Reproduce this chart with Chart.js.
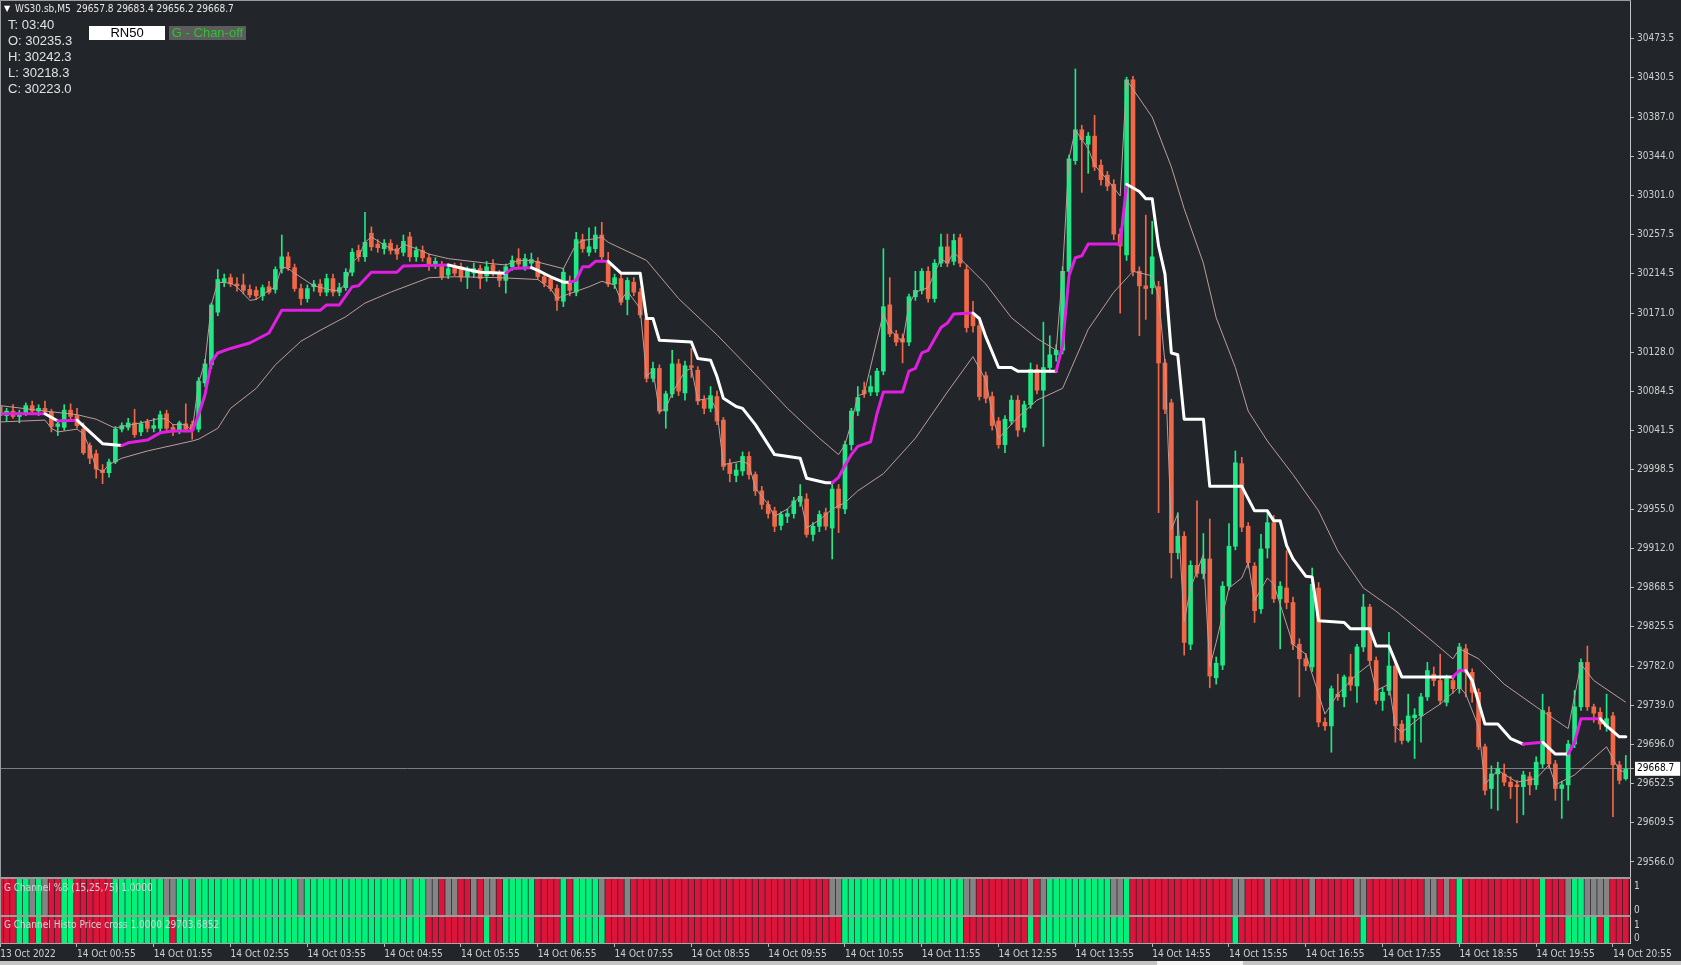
<!DOCTYPE html>
<html>
<head>
<meta charset="utf-8">
<title>WS30.sb,M5</title>
<script src="https://cdn.jsdelivr.net/npm/chart.js"></script>
<style>
  html, body { margin: 0; padding: 0; }
  body { width: 1681px; height: 965px; position: relative; overflow: hidden; background: #222529; }
  canvas { position: absolute; left: 0; }
  .t { position: absolute; white-space: pre; color: #e2e2e2; }
  .ln { position: absolute; background: #9c9c9c; }
</style>
</head>
<body>
<canvas id="main" width="1681" height="878" style="top:0"></canvas>
<canvas id="pctb" width="1681" height="38" style="top:878px"></canvas>
<canvas id="histo" width="1681" height="49" style="top:916px"></canvas>

<div class="ln" style="left:0;top:0;width:1631px;height:1px"></div>
<div class="ln" style="left:0;top:0;width:1px;height:944px"></div>
<div class="ln" style="left:0;top:877px;width:1631px;height:2px"></div>
<div class="ln" style="left:0;top:915px;width:1631px;height:2px"></div>
<div style="position:absolute;left:0;top:961px;width:1681px;height:4px;background:#c4c4c4"></div>
<div style="position:absolute;left:1157px;top:961px;width:86px;height:4px;background:#f4f4f4"></div>

<div class="t" style="left:4px;top:4px;font:8px 'DejaVu Sans';color:#ffffff">&#9660;</div>
<div class="t" style="left:15px;top:3px;font:10px 'DejaVu Sans Condensed','DejaVu Sans',sans-serif;color:#e6e6e6">WS30.sb,M5  29657.8 29683.4 29656.2 29668.7</div>
<div class="t" style="left:8px;top:17px;font:13px 'Liberation Sans',sans-serif;line-height:16px">T: 03:40<br>O: 30235.3<br>H: 30242.3<br>L: 30218.3<br>C: 30223.0</div>
<div class="t" style="left:89px;top:26px;width:76px;height:14px;background:#ffffff;color:#000;font:13px 'Liberation Sans',sans-serif;line-height:14px;text-align:center">RN50</div>
<div class="t" style="left:169px;top:26px;width:77px;height:14px;background:#5c5c5c;color:#2cc52c;font:13px 'Liberation Sans',sans-serif;line-height:14px;text-align:center">G - Chan-off</div>
<div class="t" style="left:4px;top:882px;font:10px 'DejaVu Sans Condensed','DejaVu Sans',sans-serif;color:#d4d4d4">G Channel %B (15,25,75) 1.0000</div>
<div class="t" style="left:4px;top:919px;font:10px 'DejaVu Sans Condensed','DejaVu Sans',sans-serif;color:#d4d4d4">G Channel Histo Price cross 1.0000 29703.6852</div>

<script>
// WS30 M5 candles, 13 Oct 23:55 .. 14 Oct 21:05
const openP = [
30068,30058,30063,30057,30061,30069,30063,30066,30062,30046,
30045,30064,30058,30043,30025,30016,29998,29995,30007,30043,
30045,30050,30040,30051,30044,30044,30060,30045,30041,30049,
30048,30043,30094,30114,30172,30205,30210,30203,30202,30197,
30196,30190,30200,30197,30220,30233,30221,30198,30187,30200,
30203,30194,30209,30194,30199,30216,30240,30233,30259,30247,
30242,30248,30242,30238,30255,30233,30240,30232,30225,30224,
30213,30220,30222,30211,30215,30220,30212,30224,30214,30207,
30222,30231,30222,30226,30228,30211,30209,30198,30184,30204,
30194,30252,30238,30242,30257,30227,30203,30209,30186,30205,
30194,30165,30099,30110,30063,30082,30115,30083,30113,30108,
30075,30066,30079,30053,30005,29992,29997,30013,29993,29975,
29960,29953,29937,29947,29950,29963,29966,29927,29936,29951,
29934,29977,29955,30026,30063,30086,30084,30084,30107,30180,
30148,30143,30139,30189,30196,30217,30187,30226,30244,30228,
30254,30219,30169,30157,30102,30079,30052,30026,30052,30075,
30045,30070,30109,30086,30111,30125,30130,30217,30339,30373,
30357,30366,30334,30323,30313,30258,30235,30428,30217,30201,
30199,30200,30116,30072,29907,29925,29806,29893,29884,29900,
29769,29783,29870,29914,30005,29936,29892,29845,29912,29940,
29856,29868,29852,29806,29790,29781,29868,29720,29716,29751,
29748,29770,29760,29803,29847,29788,29744,29755,29782,29718,
29700,29725,29727,29748,29773,29766,29742,29766,29757,29801,
29775,29753,29693,29647,29663,29663,29654,29651,29649,29660,
29651,29674,29731,29674,29647,29651,29696,29737,29786,29737,
29731,29715,29727,29673,29657.8];
const highP = [
30075,30066,30070,30064,30072,30074,30070,30074,30065,30052,
30070,30071,30066,30050,30028,30020,30004,30010,30046,30050,
30055,30065,30052,30054,30055,30063,30064,30048,30052,30071,
30052,30100,30120,30182,30219,30214,30214,30210,30214,30202,
30200,30202,30206,30222,30257,30238,30225,30203,30202,30207,
30208,30214,30214,30204,30220,30242,30246,30282,30266,30252,
30252,30252,30246,30257,30260,30244,30245,30236,30232,30228,
30224,30226,30226,30222,30226,30224,30228,30230,30218,30225,
30234,30242,30236,30237,30232,30215,30212,30202,30220,30212,
30260,30258,30265,30266,30271,30238,30214,30214,30210,30210,
30198,30170,30117,30114,30085,30130,30120,30118,30132,30112,
30080,30090,30085,30056,30010,30005,30018,30018,29996,29980,
29964,29957,29952,29955,29968,29982,29972,29940,29953,29956,
29982,29982,30030,30066,30090,30095,30102,30110,30242,30210,
30152,30148,30192,30217,30220,30222,30230,30258,30258,30258,
30258,30224,30184,30162,30106,30084,30056,30058,30080,30080,
30074,30116,30114,30161,30146,30136,30222,30345,30440,30378,
30370,30389,30340,30327,30318,30264,30431,30432,30222,30279,
30272,30206,30120,30076,29951,29930,29898,29964,29928,29944,
29792,29875,29939,30019,30012,29940,29896,29927,29951,29948,
29875,29909,29858,29812,29796,29890,29874,29725,29760,29773,
29772,29795,29806,29861,29850,29792,29758,29819,29786,29722,
29751,29735,29752,29786,29781,29795,29772,29770,29807,29806,
29779,29757,29696,29672,29676,29674,29660,29656,29666,29665,
29682,29751,29737,29678,29655,29700,29755,29790,29804,29740,
29736,29751,29731,29677,29683.4];
const lowP = [
30055,30052,30055,30050,30058,30060,30058,30060,30040,30036,
30042,30053,30044,30015,30005,29989,29983,29990,30005,30040,
30042,30034,30036,30040,30040,30040,30040,30036,30038,30040,
30032,30040,30090,30110,30168,30200,30200,30195,30192,30188,
30186,30185,30192,30193,30215,30218,30195,30180,30183,30195,
30190,30190,30190,30190,30196,30212,30228,30228,30240,30238,
30236,30236,30230,30234,30228,30228,30228,30218,30220,30208,
30209,30212,30206,30198,30210,30198,30206,30212,30200,30193,
30218,30222,30218,30220,30208,30200,30195,30174,30178,30190,
30190,30238,30234,30238,30230,30200,30198,30180,30169,30190,
30166,30095,30095,30060,30044,30078,30080,30075,30100,30070,
30060,30062,30048,29998,29985,29985,29992,29988,29970,29955,
29945,29930,29932,29940,29945,29958,29924,29920,29930,29932,
29900,29929,29950,30020,30058,30078,30080,30080,30103,30145,
30135,30116,30135,30185,30192,30183,30183,30222,30222,30224,
30222,30150,30150,30075,30072,30042,30022,30017,30048,30035,
30040,30066,30082,30024,30106,30118,30126,30213,30335,30304,
30325,30328,30312,30306,30252,30171,30229,30212,30146,30164,
30192,29951,30060,29879,29900,29794,29800,29880,29878,29758,
29762,29778,29866,29910,29930,29890,29830,29840,29901,29852,
29801,29845,29800,29748,29777,29776,29715,29711,29687,29744,
29737,29755,29742,29798,29784,29740,29733,29750,29698,29696,
29698,29680,29698,29744,29760,29740,29738,29752,29752,29748,
29742,29690,29640,29625,29623,29650,29636,29609,29618,29640,
29646,29670,29670,29634,29614,29634,29692,29733,29733,29720,
29712,29710,29616,29652,29656.2];
const closeP = [
30058,30063,30057,30061,30069,30063,30066,30062,30046,30049,
30064,30057,30047,30017,30011,29999,29995,30007,30043,30047,
30050,30037,30049,30044,30047,30059,30044,30040,30050,30043,
30042,30096,30115,30180,30208,30209,30203,30201,30196,30191,
30190,30199,30194,30219,30233,30221,30198,30187,30198,30203,
30194,30209,30194,30199,30216,30238,30233,30249,30244,30243,
30248,30240,30236,30250,30233,30240,30232,30225,30228,30211,
30220,30215,30211,30217,30220,30209,30222,30216,30207,30222,
30229,30225,30231,30230,30211,30204,30198,30185,30216,30196,
30252,30242,30244,30257,30233,30203,30210,30183,30207,30194,
30169,30099,30110,30063,30082,30115,30085,30113,30111,30074,
30066,30080,30052,30002,29994,29998,30013,29993,29975,29960,
29950,29936,29949,29950,29964,29969,29927,29936,29949,29936,
29977,29956,30026,30063,30078,30082,30090,30107,30178,30148,
30139,30139,30189,30196,30217,30187,30226,30244,30226,30251,
30226,30155,30157,30079,30077,30047,30026,30054,30075,30042,
30070,30109,30086,30111,30125,30130,30217,30341,30373,30362,
30366,30332,30318,30311,30258,30245,30428,30217,30201,30198,
30233,30116,30065,29907,29925,29808,29893,29884,29900,29771,
29785,29870,29914,30006,29935,29896,29843,29911,29940,29856,
29870,29852,29806,29790,29782,29872,29720,29716,29757,29748,
29770,29761,29803,29847,29788,29744,29753,29782,29716,29700,
29727,29728,29748,29777,29766,29744,29768,29757,29803,29775,
29753,29693,29645,29663,29669,29654,29649,29649,29662,29651,
29676,29733,29674,29647,29651,29696,29737,29786,29737,29730,
29718,29724,29673,29656,29668.7];

// G-Channel midline: [bar, price, 1 = up (magenta) / 0 = down (white)]
const midLine = [
[0,30060,1],[7,30060,0],[9,30052,1],[12,30053,0],[14,30040,0],[16,30027,0],[19,30025,1],
[20,30028,1],[23,30031,1],[25,30039,1],[27,30041,1],[30,30041,1],[31,30059,1],[32,30081,1],
[33,30117,1],[34,30127,1],[36,30132,1],[39,30138,1],[42,30149,1],[44,30174,1],[50,30174,1],
[51,30180,1],[53,30180,1],[55,30200,1],[56,30201,1],[58,30216,1],[62,30216,1],[63,30223,1],
[70,30224,0],[73,30219,0],[75,30216,0],[79,30215,1],[80,30220,1],[83,30221,0],[84,30218,0],
[86,30211,0],[88,30205,0],[89,30205,1],[90,30207,1],[91,30222,1],[92,30222,1],[93,30228,1],
[95,30228,0],[97,30215,0],[100,30215,0],[101,30165,0],[102,30165,0],[103,30141,0],[108,30139,0],
[109,30121,0],[111,30119,0],[112,30101,0],[113,30077,0],[115,30068,0],[116,30066,0],[118,30048,0],
[121,30015,0],[125,30011,0],[126,29989,0],[129,29984,0],[130,29984,1],[131,29990,1],[132,30003,1],
[133,30015,1],[134,30024,1],[136,30029,1],[137,30060,1],[138,30084,1],[141,30084,1],[142,30107,1],
[143,30110,1],[144,30127,1],[145,30130,1],[147,30155,1],[148,30160,1],[149,30170,1],[152,30171,0],
[153,30165,0],[154,30145,0],[156,30111,0],[158,30111,0],[159,30107,0],[165,30107,1],[166,30135,1],
[167,30212,1],[168,30232,1],[169,30234,1],[170,30247,1],[175,30247,1],[176,30313,0],[178,30305,0],
[179,30297,0],[180,30297,0],[181,30245,0],[182,30214,0],[183,30127,0],[184,30125,0],[185,30054,0],
[188,30054,0],[189,29980,0],[194,29980,0],[196,29953,0],[198,29953,0],[199,29942,0],[200,29942,0],
[201,29915,0],[202,29900,0],[204,29881,0],[205,29880,0],[206,29832,0],[210,29830,0],[211,29823,0],
[214,29823,0],[215,29804,0],[217,29804,0],[219,29770,0],[227,29770,1],[228,29777,1],[229,29777,0],
[230,29766,0],[232,29718,0],[234,29718,0],[236,29702,0],[238,29696,1],[241,29698,0],[243,29685,0],
[245,29685,1],[246,29698,1],[247,29724,1],[250,29724,0],[251,29716,0],[253,29704,0],[254,29704,0]];

// G-Channel upper band: [bar, price]
const upperBand = [
[0,30069],[7,30063],[12,30059],[15,30054],[18,30044],[19,30046],[22,30050],[25,30055],[26,30054],
[27,30048],[29,30048],[30,30041],[31,30094],[32,30117],[33,30180],[34,30205],[36,30204],[37,30200],
[39,30185],[40,30186],[42,30196],[43,30200],[44,30222],[45,30220],[46,30215],[49,30201],[52,30196],
[53,30196],[54,30204],[55,30227],[56,30233],[57,30249],[58,30255],[60,30246],[62,30239],[63,30247],
[65,30242],[67,30236],[70,30231],[76,30226],[79,30224],[81,30229],[83,30229],[88,30220],[90,30247],
[91,30251],[93,30253],[94,30255],[95,30249],[101,30229],[106,30187],[112,30147],[119,30096],
[123,30066],[128,30033],[131,30015],[132,30026],[133,30050],[134,30080],[135,30082],[138,30171],
[139,30153],[141,30139],[142,30180],[143,30194],[145,30199],[147,30231],[148,30226],[149,30238],
[150,30231],[154,30203],[158,30166],[162,30143],[165,30130],[166,30217],[167,30341],[168,30373],
[170,30352],[171,30334],[173,30318],[175,30300],[176,30428],[180,30387],[183,30332],[185,30286],
[188,30226],[190,30166],[193,30111],[195,30063],[198,30030],[202,29993],[206,29953],[209,29909],
[213,29868],[218,29843],[223,29814],[227,29790],[228,29801],[231,29790],[235,29762],[240,29737],
[245,29713],[247,29784],[249,29766],[254,29742]];

// G-Channel lower band: [bar, price]
const lowerBand = [
[0,30051],[7,30053],[8,30044],[9,30040],[12,30043],[13,30038],[14,30022],[15,30000],[16,29996],
[17,30004],[19,30011],[23,30019],[30,30030],[31,30032],[34,30044],[36,30066],[40,30088],[43,30114],
[47,30140],[50,30152],[54,30167],[57,30182],[61,30194],[67,30210],[71,30211],[78,30210],[84,30208],
[86,30198],[87,30187],[88,30190],[92,30200],[94,30206],[96,30202],[97,30185],[98,30195],[100,30176],
[101,30101],[102,30108],[103,30062],[104,30066],[105,30083],[107,30107],[108,30110],[109,30075],
[111,30077],[112,30063],[113,30004],[116,30008],[117,30004],[118,29978],[120,29960],[121,29947],
[123,29955],[125,29969],[126,29934],[128,29943],[130,29955],[132,29962],[134,29975],[138,29994],
[143,30033],[148,30084],[152,30123],[153,30110],[154,30097],[155,30061],[156,30033],[159,30056],
[162,30075],[166,30088],[170,30153],[174,30194],[177,30217],[180,30212],[181,30189],[182,30116],
[183,29932],[184,29950],[185,29831],[186,29868],[188,29905],[189,29781],[190,29808],[192,29868],
[194,29879],[195,29896],[196,29854],[198,29879],[199,29872],[202,29806],[204,29795],[207,29729],
[209,29751],[212,29773],[214,29784],[215,29755],[217,29762],[218,29715],[219,29709],[222,29726],
[225,29740],[228,29759],[229,29751],[231,29715],[232,29652],[234,29667],[237,29654],[240,29658],
[242,29673],[243,29651],[246,29662],[251,29693],[253,29667],[254,29665]];

// indicator histograms, one letter per bar: g = green, r = red, x = gray
const pctB =
  "rrrggxgxrr" + "ggrrrrrrgg" + "ggggggxxgg" + "xggggggggg" + "gggggggxgg" +
  "gggggggggg" + "ggggxggxxr" + "xxrrxrxxrg" + "ggggrrrrgr" + "ggggxrrrxr" +
  "rrrrrrrrrr" + "rrrrrrrrrr" + "rrrrrrrrrr" + "xxgggggggg" + "gggggggggg" +
  "gxxrrrrrrr" + "rxrxgggggg" + "ggggxxgrrr" + "rrrrrrrrrr" + "rrrxxrrrxr" +
  "rrrrrxrrrr" + "rrxxrrrrrr" + "rrrxxrxrgr" + "rrrrrrrrrr" + "rgrrrxggxx" + "xxrrr";
const histo =
  "rrrggrgrrr" + "ggrrrrrrgg" + "gggggggrgg" + "gggggggggg" + "gggggggggg" +
  "gggggggggg" + "gggggggrrr" + "rrrrrrgrrg" + "ggggrrrrgr" + "gggggrrrrr" +
  "rrrrrrrrrr" + "rrrrrrrrrr" + "rrrrrrrrrr" + "rrgggggggg" + "gggggggggg" +
  "grrrrrrrrr" + "rgrggggggg" + "gggggggrrr" + "rrrrrrrrrr" + "rrrgrrrrrr" +
  "rrrrrrrrrr" + "rrrgrrrrrr" + "rrrrrrrrgr" + "rrrrrrrrrr" + "rgrrrggggg" + "rgrrr";

const priceTicks = [30473.5, 30430.5, 30387.0, 30344.0, 30301.0, 30257.5, 30214.5, 30171.0,
  30128.0, 30084.5, 30041.5, 29998.5, 29955.0, 29912.0, 29868.5, 29825.5, 29782.0, 29739.0,
  29696.0, 29652.5, 29609.5, 29566.0];
const timeLabels = ['13 Oct 2022', '14 Oct 00:55', '14 Oct 01:55', '14 Oct 02:55', '14 Oct 03:55',
  '14 Oct 04:55', '14 Oct 05:55', '14 Oct 06:55', '14 Oct 07:55', '14 Oct 08:55', '14 Oct 09:55',
  '14 Oct 10:55', '14 Oct 11:55', '14 Oct 12:55', '14 Oct 13:55', '14 Oct 14:55', '14 Oct 15:55',
  '14 Oct 16:55', '14 Oct 17:55', '14 Oct 18:55', '14 Oct 19:55', '14 Oct 20:55'];

const BULL = '#1fe886', BEAR = '#f06848';
const IND = { g: '#00f27c', r: '#dc143c', x: '#848484' };
const MAGENTA = '#e21ee2', BAND = '#c09c9a';
const TXT = '#cfcfcf';
const FONT = "'DejaVu Sans Condensed', 'DejaVu Sans', sans-serif";
const X_MIN = -0.03, X_MAX = 254.66, AXIS_W = 51;
const Y_MIN = 29548.36, Y_MAX = 30516.04;

Chart.defaults.font.family = FONT;
Chart.defaults.font.size = 10;
Chart.defaults.color = TXT;

const bid = closeP[closeP.length - 1];
const bars = closeP.map((c, i) => i);
const candleCol = bars.map(i => closeP[i] >= openP[i] ? BULL : BEAR);

const baseOpts = {
  responsive: false,
  maintainAspectRatio: false,
  animation: false,
  events: [],
  plugins: { legend: { display: false }, tooltip: { enabled: false } }
};

// keep every panel's plot area at fixed pixels: no label overhang padding
function noPad(s) {
  s.paddingTop = 0; s.paddingBottom = 0; s.paddingLeft = 0; s.paddingRight = 0;
}

function xAxis(show) {
  return {
    type: 'linear', min: X_MIN, max: X_MAX, offset: false, display: show,
    grid: { offset: false, drawOnChartArea: false, tickLength: 4, tickColor: '#b8b8b8' },
    border: { display: true, color: '#a8a8a8' },
    afterFit: s => { s.height = show ? 22 : 0; noPad(s); },
    afterBuildTicks: s => { s.ticks = timeLabels.map((t, k) => ({ value: k * 12 })); },
    ticks: { autoSkip: false, maxRotation: 0, align: 'start', padding: 1, color: TXT,
      callback: (v, k) => timeLabels[k] }
  };
}

new Chart(document.getElementById('main'), {
  type: 'bar',
  data: {
    datasets: [
      { type: 'line', order: 0, data: midLine.map(p => ({ x: p[0], y: p[1] })),
        borderWidth: 3, pointRadius: 0, tension: 0, borderJoinStyle: 'round', borderCapStyle: 'round',
        borderColor: '#ffffff',
        segment: { borderColor: c => midLine[c.p0DataIndex][2] ? MAGENTA : '#ffffff' } },
      { type: 'line', order: 1, data: upperBand.map(p => ({ x: p[0], y: p[1] })),
        borderWidth: 1, pointRadius: 0, tension: 0, borderColor: BAND },
      { type: 'line', order: 1, data: lowerBand.map(p => ({ x: p[0], y: p[1] })),
        borderWidth: 1, pointRadius: 0, tension: 0, borderColor: BAND },
      { order: 2, data: bars.map(i => ({ x: i, y: [openP[i], closeP[i]] })),
        backgroundColor: candleCol, barThickness: 4, minBarLength: 1, grouped: false },
      { order: 3, data: bars.map(i => ({ x: i, y: [lowP[i], highP[i]] })),
        backgroundColor: candleCol, barThickness: 1, grouped: false }
    ]
  },
  options: Object.assign({}, baseOpts, {
    layout: { padding: 0 },
    scales: {
      x: xAxis(false),
      y: {
        position: 'right', min: Y_MIN, max: Y_MAX, beginAtZero: false,
        afterFit: s => { s.width = AXIS_W; noPad(s); },
        afterBuildTicks: s => {
          s.ticks = priceTicks.concat([bid]).sort((a, b) => a - b).map(v => ({ value: v }));
        },
        ticks: {
          autoSkip: false, padding: 3,
          color: c => c.tick.value === bid ? '#000000' : TXT,
          callback: v => v.toFixed(1),
          showLabelBackdrop: c => c.tick.value === bid,
          backdropColor: '#ffffff',
          backdropPadding: { left: 2, right: 6, top: 1, bottom: 1 }
        },
        grid: {
          color: c => (c.tick && c.tick.value === bid) ? '#7a7e84' : 'rgba(0,0,0,0)',
          tickColor: '#b8b8b8', tickLength: 4
        },
        border: { display: true, color: '#c4c4c4', width: 1 }
      }
    }
  })
});

function indChart(id, codes, yMin, yMax, showX, padBottom) {
  new Chart(document.getElementById(id), {
    type: 'bar',
    data: {
      datasets: [{
        data: bars.map(i => ({ x: i, y: [yMin, yMax] })),
        backgroundColor: bars.map(i => IND[codes[i]]),
        barThickness: 5, grouped: false
      }]
    },
    options: Object.assign({}, baseOpts, {
      layout: { padding: { top: 1, bottom: padBottom, left: 0, right: 0 } },
      scales: {
        x: xAxis(showX),
        y: {
          position: 'right', min: yMin, max: yMax, beginAtZero: false,
          afterFit: s => { s.width = AXIS_W; noPad(s); },
          afterBuildTicks: s => { s.ticks = [{ value: 0 }, { value: 1 }]; },
          ticks: { autoSkip: false, padding: 4, color: TXT, callback: v => String(v) },
          grid: { drawOnChartArea: false, drawTicks: false },
          border: { display: true, color: '#c4c4c4', width: 1 }
        }
      }
    })
  });
}

indChart('pctb', pctB, -0.215, 1.33, false, 1);
indChart('histo', histo, -0.35, 1.6, true, 0);
</script>
</body>
</html>
